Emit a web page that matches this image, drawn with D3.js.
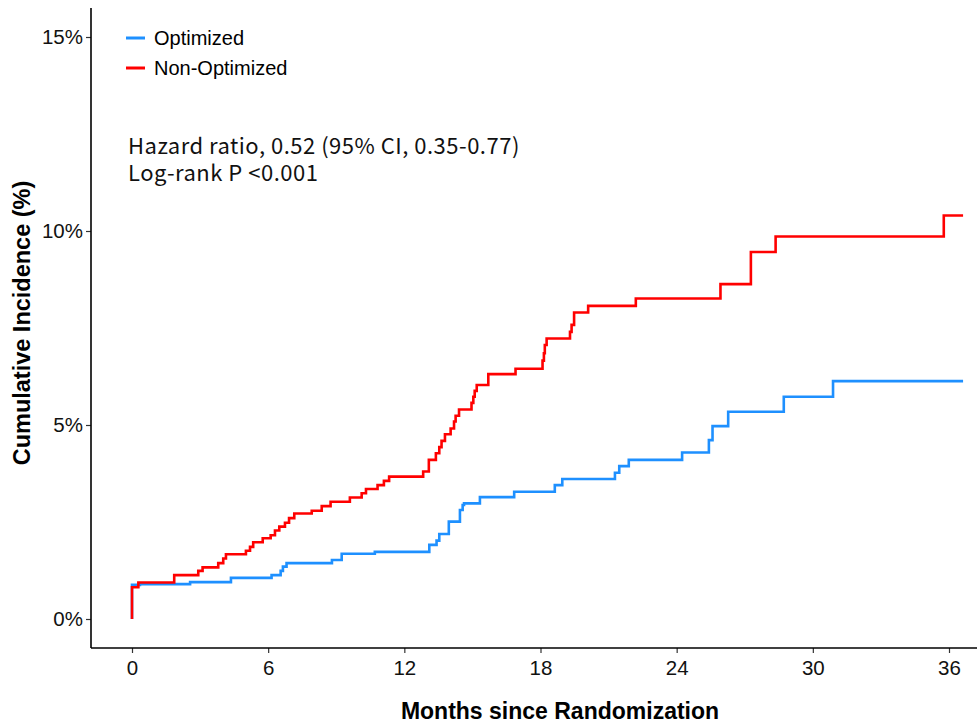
<!DOCTYPE html>
<html>
<head>
<meta charset="utf-8">
<script src="https://cdn.jsdelivr.net/npm/d3@7"></script>
<style>
	body { margin: 0; background: #fff; }
	text { font-family: "Liberation Sans", Arial, sans-serif; }
</style>
</head>
<body>
<div id="chart"></div>
<script>
// cumulative incidence (months, %)
const monthsOpt = [0, 0, 0.35, 2.56, 4.36, 6.15, 6.55, 6.65, 6.81, 8.81, 9.24, 10.70, 13.10, 13.42, 13.54, 13.96, 14.45, 14.57, 14.63, 15.33, 16.84, 18.63, 18.96, 21.28, 21.47, 21.89, 24.24, 25.42, 25.58, 26.27, 28.72, 30.89, 36.62]
const incOpt = [0, 0.88, 0.90, 0.95, 1.06, 1.13, 1.24, 1.35, 1.44, 1.52, 1.68, 1.73, 1.91, 2.02, 2.19, 2.51, 2.81, 2.94, 2.98, 3.14, 3.28, 3.45, 3.61, 3.77, 3.94, 4.10, 4.29, 4.61, 4.97, 5.34, 5.73, 6.13, 6.13]

const monthsNon = [0, 0, 0.28, 1.86, 2.92, 3.11, 3.80, 4.02, 4.14, 5.02, 5.20, 5.34, 5.76, 6.11, 6.30, 6.49, 6.74, 6.92, 7.15, 7.92, 8.36, 8.75, 9.60, 10.12, 10.31, 10.82, 11.10, 11.33, 12.83, 13.08, 13.39, 13.54, 13.64, 13.79, 14.04, 14.19, 14.26, 14.41, 14.96, 15.04, 15.10, 15.19, 15.70, 16.90, 18.09, 18.15, 18.19, 18.27, 19.30, 19.37, 19.48, 20.10, 22.20, 25.93, 27.27, 28.36, 35.77, 36.62]
const incNon = [0, 0.82, 0.94, 1.13, 1.24, 1.33, 1.44, 1.56, 1.67, 1.76, 1.86, 1.98, 2.08, 2.16, 2.28, 2.38, 2.48, 2.60, 2.72, 2.79, 2.91, 3.02, 3.13, 3.24, 3.35, 3.45, 3.56, 3.67, 3.80, 4.10, 4.27, 4.43, 4.59, 4.76, 4.91, 5.09, 5.24, 5.40, 5.57, 5.73, 5.88, 6.03, 6.31, 6.45, 6.66, 6.85, 7.06, 7.23, 7.40, 7.58, 7.90, 8.07, 8.26, 8.63, 9.46, 9.86, 10.40, 10.40]

const groupNames = ["Optimized", "Non-Optimized"]
const groupColors = ["#1e90ff", "#ff0000"]
const xTicks = [0, 6, 12, 18, 24, 30, 36]
const yTicks = [0, 5, 10, 15]
const notes = ["Hazard ratio, 0.52 (95% CI, 0.35-0.77)", "Log-rank P <0.001"]

const svgWidth = 977
const svgHeight = 727

// panel edges
let panel = { left: 91, right: 977, top: 8, bottom: 648 }

let svg = d3
	.select("#chart")
	.append("svg")
	.attr("width", svgWidth)
	.attr("height", svgHeight)

let xScale = d3.scaleLinear().domain([0, 36]).range([132, 949])
let yScale = d3.scaleLinear().domain([0, 15]).range([619, 37])

// step lines
let series = [
	monthsOpt.map((m, i) => [m, incOpt[i]]),
	monthsNon.map((m, i) => [m, incNon[i]])
]

let line = d3.line()
	.x(d => xScale(d[0]))
	.y(d => yScale(d[1]))
	.curve(d3.curveStepAfter)

svg.selectAll(".km")
	.data(series)
	.enter()
	.append("path")
	.attr("class", "km")
	.attr("d", line)
	.attr("fill", "none")
	.attr("stroke", (d, i) => groupColors[i])
	.attr("stroke-width", 2.6)

// axes
let bottomAxis = d3.axisBottom(xScale).tickValues(xTicks).tickSize(5).tickPadding(7)
let leftAxis = d3.axisLeft(yScale).tickValues(yTicks).tickSize(5).tickPadding(3).tickFormat(d => d + "%")

let xAxis = svg.append("g")
	.attr("transform", `translate(0, ${panel.bottom})`)
	.call(bottomAxis)
let yAxis = svg.append("g")
	.attr("transform", `translate(${panel.left}, 0)`)
	.call(leftAxis)

for (let ax of [xAxis, yAxis]) {
	ax.select(".domain").remove()
	ax.selectAll(".tick line").attr("stroke", "#333").attr("stroke-width", 1.2)
	ax.selectAll(".tick text")
		.attr("fill", "#111")
		.style("font-size", "20.5px")
		.style("font-family", "'Liberation Sans', Arial, sans-serif")
}

svg.append("line")
	.attr("x1", panel.left).attr("x2", panel.right)
	.attr("y1", panel.bottom).attr("y2", panel.bottom)
	.attr("stroke", "#000").attr("stroke-width", 1.6)
svg.append("line")
	.attr("x1", panel.left).attr("x2", panel.left)
	.attr("y1", panel.top).attr("y2", panel.bottom)
	.attr("stroke", "#000").attr("stroke-width", 1.6)

// axis titles
svg.append("text")
	.attr("x", 560)
	.attr("y", 719)
	.attr("text-anchor", "middle")
	.style("font-size", "23px")
	.style("font-weight", "bold")
	.text("Months since Randomization")

svg.append("text")
	.attr("transform", `translate(30, 323) rotate(-90)`)
	.attr("text-anchor", "middle")
	.style("font-size", "23.5px")
	.style("font-weight", "bold")
	.text("Cumulative Incidence (%)")

// legend
let legend = svg.selectAll(".legend")
	.data(groupNames)
	.enter()
	.append("g")
	.attr("transform", (d, i) => `translate(126, ${38 + i * 30})`)

legend.append("line")
	.attr("x1", 0).attr("x2", 19)
	.attr("stroke", (d, i) => groupColors[i])
	.attr("stroke-width", 3)

legend.append("text")
	.attr("x", 28)
	.attr("dy", "0.35em")
	.style("font-size", "20px")
	.text(d => d)

// hazard ratio note
svg.selectAll(".note")
	.data(notes)
	.enter()
	.append("text")
	.attr("class", "note")
	.attr("x", 128)
	.attr("y", (d, i) => 154 + i * 27)
	.style("font-family", "'Noto Sans CJK KR', 'Noto Sans', sans-serif")
	.style("font-size", "22px")
	.style("letter-spacing", "0.5px")
	.attr("fill", "#111")
	.text(d => d)
</script>
</body>
</html>
